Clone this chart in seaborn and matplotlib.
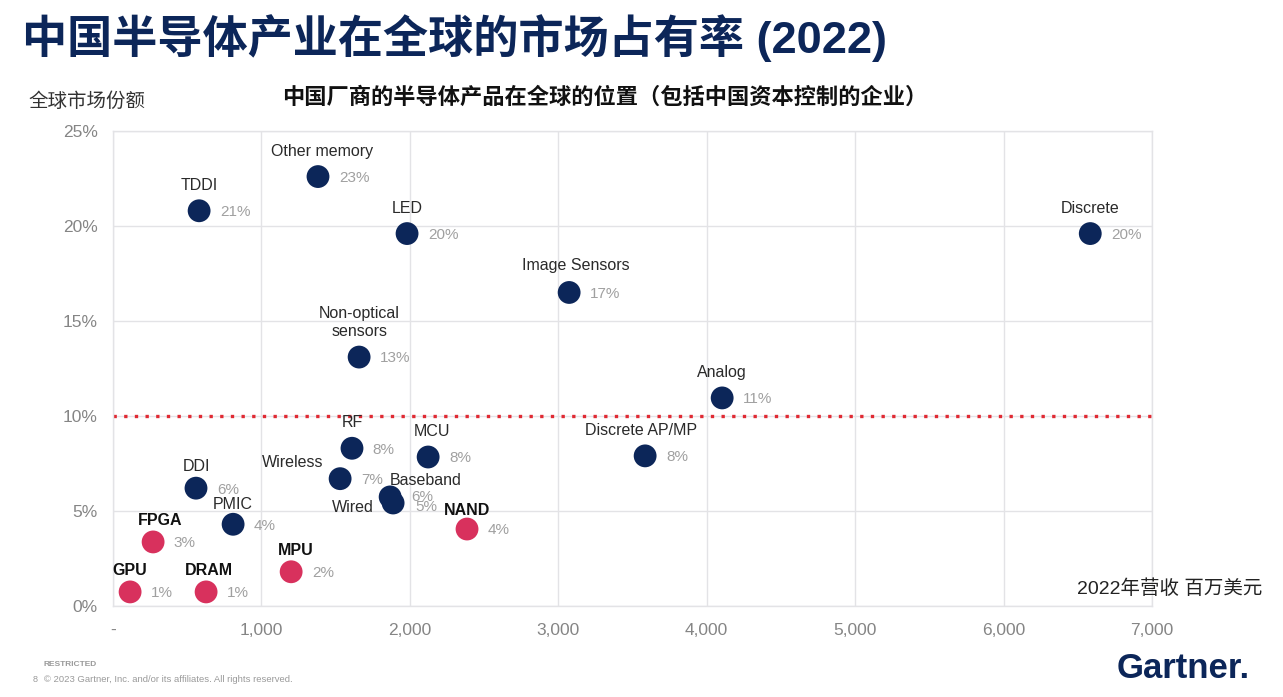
import matplotlib
matplotlib.use("Agg")
import matplotlib.pyplot as plt
import seaborn as sns
import pandas as pd

# ---------------- data ----------------
products = ["TDDI", "Other memory", "LED", "Discrete", "Image Sensors",
            "Non-optical\nsensors", "Analog", "RF", "MCU", "Discrete AP/MP",
            "Wireless", "DDI", "Baseband", "Wired", "PMIC", "NAND",
            "FPGA", "MPU", "GPU", "DRAM"]
revenue = [580, 1381, 1981, 6584, 3073, 1658, 4104, 1610, 2123, 3585,
           1530, 559, 1867, 1887, 809, 2385, 270, 1200, 115, 627]
share = [20.8, 22.6, 19.6, 19.6, 16.5, 13.1, 10.95, 8.3, 7.84, 7.9,
         6.7, 6.2, 5.74, 5.42, 4.3, 4.05, 3.37, 1.8, 0.74, 0.74]
share_labels = ["21%", "23%", "20%", "20%", "17%", "13%", "11%", "8%", "8%",
                "8%", "7%", "6%", "6%", "5%", "4%", "4%", "3%", "2%", "1%", "1%"]
weak = ["FPGA", "MPU", "GPU", "DRAM", "NAND"]
group = ["weak" if p in weak else "strong" for p in products]

x_ticks = [0, 1000, 2000, 3000, 4000, 5000, 6000, 7000]
x_tick_labels = ["-", "1,000", "2,000", "3,000", "4,000", "5,000", "6,000", "7,000"]
y_ticks = [0, 5, 10, 15, 20, 25]
y_tick_labels = ["0%", "5%", "10%", "15%", "20%", "25%"]
threshold = 10

df = pd.DataFrame({"product": products, "revenue": revenue, "share": share,
                   "label": share_labels, "group": group})

# ---------------- style ----------------
sns.set_theme(style="white")
latin = ["Liberation Sans", "Noto Sans CJK SC", "DejaVu Sans"]
cjk = ["Noto Sans CJK SC", "Liberation Sans", "DejaVu Sans"]
plt.rcParams["font.family"] = latin

NAVY = "#0c2659"
RED = "#d8315d"

fig = plt.figure(figsize=(12.83, 6.97), dpi=100)
ax = fig.add_axes([0.0881, 0.1306, 0.8098, 0.6815])

sns.scatterplot(data=df, x="revenue", y="share", hue="group",
                palette={"strong": NAVY, "weak": RED}, s=270,
                edgecolor="none", legend=False, ax=ax, zorder=3)

ax.set_xlim(0, 7000)
ax.set_ylim(0, 25)
ax.set_xticks(x_ticks)
ax.set_xticklabels(x_tick_labels, fontsize=12.5, color="#858585")
ax.set_yticks(y_ticks)
ax.set_yticklabels(y_tick_labels, fontsize=12.5, color="#858585")
ax.tick_params(axis="both", length=0)
ax.tick_params(axis="x", pad=12)
ax.tick_params(axis="y", pad=11)
ax.set_xlabel("")
ax.set_ylabel("")
ax.grid(True, color="#e3e3e6", linewidth=1.0)
for sp in ax.spines.values():
    sp.set_color("#e3e3e6")
    sp.set_linewidth(1.0)

ax.axhline(threshold, color="#e02a33", linestyle=(0, (1, 2.2)),
           linewidth=2.4, zorder=2)

# label placement (offsets in points): name label and share label
name_pos = {
    "Wireless": (-12, 12, "right"),
    "Wired": (-14, -3, "right"),
    "Baseband": (0, 12, "left"),
    "Other memory": (3, 13, "center"),
    "Image Sensors": (5, 14, "center"),
    "Discrete AP/MP": (-3, 13, "center"),
    "FPGA": (5, 10, "center"),
    "DRAM": (2, 10, "center"),
    "MPU": (3, 10, "center"),
    "MCU": (3, 13, "center"),
    "NAND": (0, 8, "center"),
    "GPU": (0, 10, "center"),
    "DDI": (0, 10, "center"),
    "PMIC": (0, 9, "center"),
}
pct_pos = {"Baseband": (15, 0), "Wired": (16, -3)}

for _, r in df.iterrows():
    dx, dy, ha = name_pos.get(r["product"], (0, 13, "center"))
    bold = r["group"] == "weak"
    va = "bottom" if ha == "center" else "center"
    ax.annotate(r["product"], (r["revenue"], r["share"]),
                xytext=(dx, dy), textcoords="offset points", ha=ha, va=va,
                fontsize=11.5, color="#111111" if bold else "#2a2a2a",
                fontweight="bold" if bold else "normal",
                linespacing=1.25, zorder=4)
    px, py = pct_pos.get(r["product"], (15, -1))
    ax.annotate(r["label"], (r["revenue"], r["share"]),
                xytext=(px, py), textcoords="offset points",
                ha="left", va="center", fontsize=11, color="#a0a0a0", zorder=4)

# ---------------- texts ----------------
fig.text(22 / 1283, 1 - 38 / 697, "中国半导体产业在全球的市场占有率 (2022)",
         family=latin, fontsize=32.5, fontweight="bold", color=NAVY,
         ha="left", va="center")
fig.text(605 / 1283, 1 - 97 / 697,
         "中国厂商的半导体产品在全球的位置（包括中国资本控制的企业）",
         family=cjk, fontsize=16, fontweight="bold", color="#111111",
         ha="center", va="center")
fig.text(28 / 1283, 1 - 101 / 697, "全球市场份额", family=cjk,
         fontsize=14, color="#333333", ha="left", va="center")
fig.text(1262 / 1283, 1 - 589 / 697, "2022年营收 百万美元", family=latin,
         fontsize=14, color="#222222", ha="right", va="center")

fig.text(44 / 1283, 1 - 664 / 697, "RESTRICTED", fontsize=6,
         fontweight="bold", color="#9a9a9a", ha="left", va="center")
fig.text(33 / 1283, 1 - 680 / 697, "8", fontsize=6.5, color="#9a9a9a",
         ha="left", va="center")
fig.text(44 / 1283, 1 - 680 / 697,
         "© 2023 Gartner, Inc. and/or its affiliates. All rights reserved.",
         fontsize=6.8, color="#9a9a9a", ha="left", va="center")
fig.text(1250 / 1283, 1 - 668 / 697, "Gartner.", fontsize=25,
         fontweight="bold", color=NAVY, ha="right", va="center")

fig.savefig("out.png", dpi=100, facecolor="white")
